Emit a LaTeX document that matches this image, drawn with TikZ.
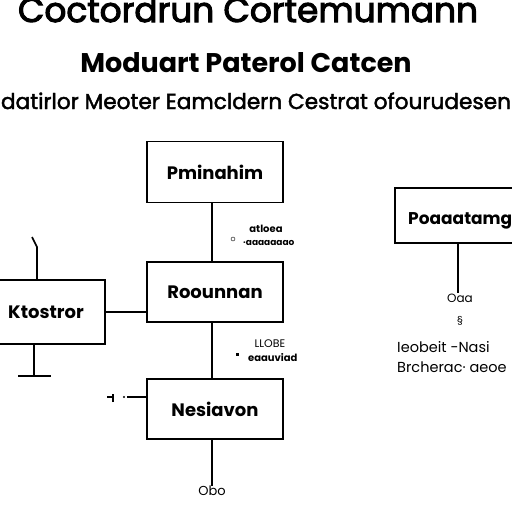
\documentclass[tikz,border=0pt]{standalone}
\usepackage{fontspec}
\setmainfont{Poppins}
\newfontface\titleface[FakeBold=3]{Poppins}
\newfontface\subface[FakeBold=2]{Poppins}
\begin{document}
\begin{tikzpicture}[x=1pt,y=-1pt,
  box/.style={draw, line width=1.6pt, minimum width=136pt, minimum height=61pt, inner sep=0pt, font=\fontsize{18}{18}\selectfont\bfseries},
  wire/.style={line width=1.6pt},
  tinytext/.style={font=\fontsize{8}{8}\selectfont, inner sep=0pt},
  sidetext/.style={font=\fontsize{14.5}{14.5}\selectfont, inner sep=0pt, anchor=base west}]
\useasboundingbox (0,0) rectangle (512,512);
\fill[white] (0,0) rectangle (512,512);
% titles
\node[anchor=base, inner sep=0pt] (t1) at (248,22) {\resizebox{460pt}{!}{\fontsize{36}{36}\titleface Coctordrun Cortemumann}};
\node[font=\fontsize{27}{27}\selectfont\bfseries, anchor=base, inner sep=0pt] (t2) at (246,72) {Moduart Paterol Catcen};
\node[anchor=base, inner sep=0pt] (t3) at (256,109) {\resizebox{510pt}{!}{\fontsize{21}{21}\subface datirlor Meoter Eamcldern Cestrat ofourudesen}};
% boxes
\node[box] (pm) at (215,172) {Pminahim};
\node[box, minimum height=60pt] (ro) at (215,292) {Roounnan};
\node[box, minimum width=110pt, minimum height=64pt] (kt) at (50,312) {\hspace*{-8pt}Ktostror};
\node[box, minimum height=60pt] (ne) at (215,409) {Nesiavon};
\node[box, minimum width=136pt, minimum height=55pt] (po) at (463,215.5) {};
\node[font=\fontsize{17}{17}\selectfont\bfseries, anchor=west, inner sep=0pt] (pot) at (408,221) {Poaaatamg};
% connectors
\draw[wire] ([xshift=-3pt]pm.south) -- ([xshift=-3pt]ro.north);
\draw[wire] ([xshift=-3pt]ro.south) -- ([xshift=-3pt]ne.north);
\draw[wire] (kt.east) -- (kt.east -| ro.west);
\coordinate (k0) at (32,237);
\coordinate (k1) at (37,247);
\draw[wire] (k0) -- (k1) -- (k1 |- kt.north);
\coordinate (kb) at (34,376);
\coordinate (kbl) at (18,376);
\coordinate (kbr) at (51,376);
\draw[wire] (kb |- kt.south) -- (kb);
\draw[wire] (kbl) -- (kbr);
\coordinate (nl) at (127,397);
\draw[wire] (nl) -- (nl -| ne.west);
\coordinate (na) at (107,397);
\coordinate (nb) at (113,397);
\draw[wire] (na) -- (nb);
\draw[wire] ([yshift=-5pt]nb) -- ([yshift=3pt]nb);
\fill (124,397) circle (1.2pt);
\coordinate (nbot) at (212,486);
\draw[wire] ([xshift=-3pt]ne.south) -- (nbot);
\node[font=\fontsize{13}{13}\selectfont, anchor=north, inner sep=0pt] (obo) at (nbot) {Obo};
% right column
\coordinate (pr) at (458,293);
\draw[wire] (pr |- po.south) -- (pr);
\node[font=\fontsize{12}{12}\selectfont, anchor=west, inner sep=0pt] (oaa) at (447,298) {Oaa};
\node[tinytext, font=\fontsize{10}{10}\selectfont] (sm) at (460,321) {\S};
\node[sidetext] (r1) at (397,352) {Ieobeit -Nasi};
\node[sidetext] (r2) at (397,372) {Brcherac· aeoe};
% small labels
\node[tinytext, font=\fontsize{10}{10}\selectfont\bfseries] (s1) at (266,229) {atloea};
\draw (233,239) circle (2pt);
\node[tinytext, font=\fontsize{9}{9}\selectfont\bfseries, anchor=west] (s2) at (243,243) {·aaaaaaao};
\node[tinytext, font=\fontsize{11}{11}\selectfont] (s3) at (270,344) {LLOBE};
\node[tinytext, font=\fontsize{10}{10}\selectfont\bfseries, anchor=west] (s4) at (248,358) {eaauviad};
\fill (236,353) rectangle (239,356);
\end{tikzpicture}
\end{document}
